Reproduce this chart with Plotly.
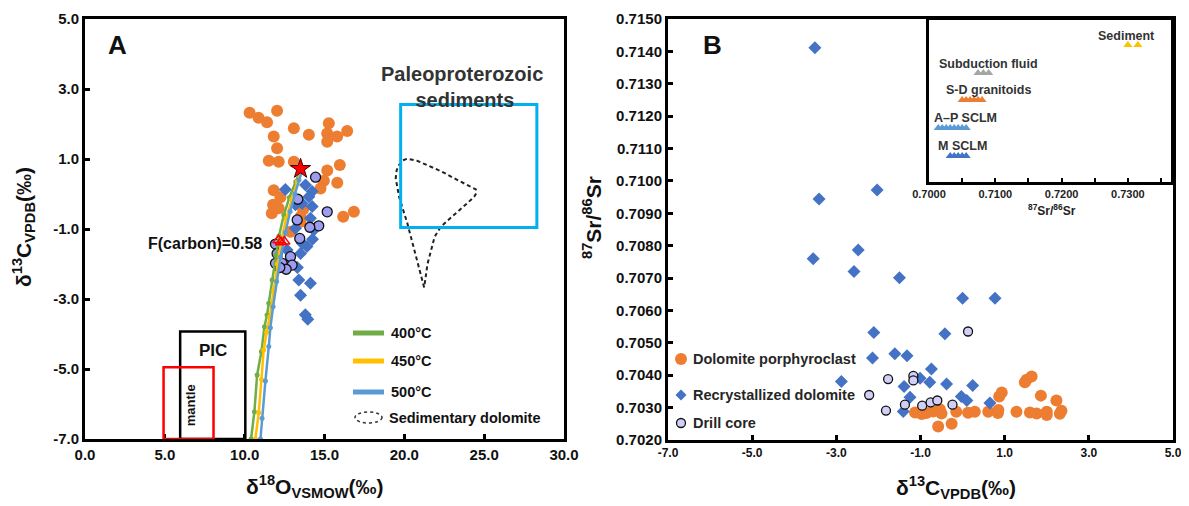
import plotly.graph_objects as go

OFF = 8  # page body margin of the browser
W, H = 1189 - OFF, 506 - OFF
def px(x): return (x - OFF) / W
def py(y): return 1 - (y - OFF) / H

FONT = "Liberation Sans"

# ---------------- Panel A data ----------------
a_porph_x = [10.31, 10.87, 11.40, 12.03, 13.08, 14.02, 15.27, 15.17, 16.42, 15.79, 15.17, 11.82, 12.03, 11.51,
             12.13, 13.08, 15.17, 15.96, 14.96, 15.80, 14.75, 11.82, 12.24, 11.78, 12.13, 13.66, 13.50, 13.50,
             16.17, 16.84, 12.87, 11.70]
a_porph_y = [2.32, 2.18, 2.05, 2.38, 1.88, 1.69, 2.02, 1.73, 1.80, 1.64, 1.49, 1.64, 1.31, 0.95,
             0.92, 0.92, 0.67, 0.83, 0.38, 0.32, 0.16, 0.11, -0.09, -0.31, -0.41, -0.44, -0.65, -0.79,
             -0.65, -0.51, -1.08, -0.55]

a_recr_x = [12.55, 13.81, 14.23, 14.02, 13.60, 14.23, 13.18, 14.12, 14.33, 13.18, 13.60, 13.50, 12.66, 14.25,
            13.39, 14.12, 13.50, 13.80, 13.95, 13.90, 13.30]
a_recr_y = [0.13, 0.26, 0.07, -0.08, -0.27, -0.36, -0.31, -0.69, -1.03, -0.98, -1.41, -1.70, -1.60, -1.29,
            -2.46, -2.55, -2.89, -3.45, -3.58, -1.50, -2.10]

a_drill_x = [14.44, 13.33, 15.17, 14.64, 14.08, 13.45, 11.93, 12.03, 12.87, 12.97, 12.35, 11.93, 13.29, 12.60, 12.20]
a_drill_y = [0.48, -0.15, -0.51, -0.91, -0.95, -1.27, -1.43, -1.70, -1.79, -2.03, -1.98, -1.98, -0.74, -2.15, -2.10]

c400_x = [10.40, 10.61, 10.78, 11.05, 11.24, 11.40, 11.51, 11.72, 11.95, 12.15, 12.45, 12.80, 13.20, 13.55]
c400_y = [-7.00, -6.22, -5.17, -4.50, -3.79, -3.46, -3.12, -2.46, -1.75, -1.20, -0.60, -0.10, 0.35, 0.75]
c450_x = [10.67, 10.88, 11.05, 11.19, 11.38, 11.57, 11.82, 12.05, 12.30, 12.60, 12.95, 13.30, 13.60]
c450_y = [-7.00, -6.25, -5.30, -4.46, -3.95, -3.51, -2.74, -2.00, -1.30, -0.70, -0.15, 0.35, 0.75]
c500_x = [10.99, 11.09, 11.30, 11.51, 11.61, 11.78, 12.00, 12.25, 12.55, 12.85, 13.15, 13.40, 13.65]
c500_y = [-7.00, -6.41, -5.34, -4.36, -3.82, -3.22, -2.50, -1.80, -1.10, -0.50, 0.00, 0.40, 0.75]

star_x, star_y = [13.5], [0.72]
tri_x = [12.12, 12.28, 12.48]
tri_y = [-1.32, -1.38, -1.36]

sed_dol_x = [21.24, 20.61, 20.19, 19.67, 19.46, 19.52, 19.67, 19.90, 20.19, 20.80, 21.44, 22.30, 23.12, 23.90,
             24.48, 24.50, 24.37, 23.90, 23.33, 22.80, 22.29, 21.90, 21.66, 21.45, 21.34, 21.24]
sed_dol_y = [-2.67, -1.60, -0.84, -0.08, 0.45, 0.68, 0.83, 0.96, 1.01, 0.95, 0.83, 0.65, 0.45, 0.28,
             0.13, 0.02, -0.08, -0.28, -0.51, -0.72, -0.93, -1.22, -1.60, -2.00, -2.36, -2.67]

pic_box = [5.96, 10.04, -7.0, -3.93]      # x0, x1, y0, y1
mantle_box = [4.92, 8.05, -7.0, -4.95]
paleo_box = [19.77, 28.30, -0.96, 2.56]

a_xticks = [0, 5, 10, 15, 20, 25, 30]
a_yticks = [-7, -5, -3, -1, 1, 3, 5]

# ---------------- Panel B data ----------------
b_porph_x = [1.52, 1.64, 1.48, 0.87, 0.93, 1.86, 2.23, -0.58, -0.26, -1.13, -0.86, -0.70, -0.50, -0.15, 0.13,
             0.29, 0.61, 0.84, 1.28, 1.60, 1.76, 2.00, 2.31, 2.00, 2.35, -0.54, -0.97, 0.85]
b_porph_y = [0.70386, 0.70396, 0.70378, 0.70334, 0.70347, 0.70337, 0.70322, 0.70242, 0.70250, 0.70285, 0.70283,
             0.70288, 0.70282, 0.70287, 0.70284, 0.70287, 0.70287, 0.70283, 0.70287, 0.70285, 0.70282, 0.70287,
             0.70281, 0.70277, 0.70290, 0.70295, 0.70280, 0.70293]

b_recr_x = [-3.51, -3.41, -2.03, -2.48, -3.55, -2.58, -1.50, -2.11, -2.14, -1.61, -2.88, 0.00, 0.77, -0.42,
            -1.32, -0.74, -1.01, -0.78, -1.39, -0.38, 0.24, -1.25, -0.03, 0.10, -1.41, 0.65]
b_recr_y = [0.71411, 0.70944, 0.70972, 0.70787, 0.70760, 0.70720, 0.70701, 0.70532, 0.70453, 0.70466, 0.70381,
            0.70638, 0.70638, 0.70528, 0.70460, 0.70419, 0.70391, 0.70378, 0.70365, 0.70373, 0.70368, 0.70332,
            0.70334, 0.70322, 0.70288, 0.70314]

b_drill_x = [-1.77, -2.22, -1.82, -1.17, -1.17, -1.37, -0.96, -0.76, -0.60, -0.24, 0.13]
b_drill_y = [0.70388, 0.70339, 0.70291, 0.70398, 0.70384, 0.70309, 0.70306, 0.70316, 0.70322, 0.70309, 0.70535]

b_xticks = [-7, -5, -3, -1, 1, 3, 5]
b_xticktext = ["-7.0", "-5.0", "-3.0", "-1.0", "1.0", "3.0", "5.0"]

# ---------------- Inset data ----------------
inset_groups = ["Sediment", "Subduction fluid", "S-D granitoids", "A–P SCLM", "M SCLM"]
inset_colors = ["#FFC000", "#A5A5A5", "#ED7D31", "#5B9BD5", "#4472C4"]
inset_levels = [0.846, 0.673, 0.506, 0.333, 0.160]
inset_x = [
    [0.7300, 0.7315],
    [0.7074, 0.7082, 0.7090],
    [0.7050, 0.7056, 0.7062, 0.7068, 0.7074, 0.7080],
    [0.7014, 0.7020, 0.7026, 0.7032, 0.7038, 0.7044, 0.7050, 0.7056],
    [0.7032, 0.7038, 0.7044, 0.7050, 0.7056],
]
inset_label_x = [0.7298, 0.7090, 0.7090, 0.7055, 0.7050]
inset_ticks = [0.700, 0.705, 0.710, 0.715, 0.720, 0.725, 0.730, 0.735]
inset_ticktext = ["0.7000", "", "0.7100", "", "0.7200", "", "0.7300", ""]

ORANGE = "#ED7D31"
BLUE = "#4472C4"

fig = go.Figure()

# Panel A traces
fig.add_trace(go.Scatter(x=a_porph_x, y=a_porph_y, mode="markers", xaxis="x", yaxis="y",
                         marker=dict(symbol="circle", size=12, color=ORANGE), showlegend=False))
fig.add_trace(go.Scatter(x=a_recr_x, y=a_recr_y, mode="markers", xaxis="x", yaxis="y",
                         marker=dict(symbol="diamond", size=10, color=BLUE), showlegend=False))
fig.add_trace(go.Scatter(x=a_drill_x, y=a_drill_y, mode="markers", xaxis="x", yaxis="y",
                         marker=dict(symbol="circle", size=10, color="#9C9CF0", line=dict(color="#111", width=1.3)),
                         showlegend=False))
for cx, cy, col in [(c400_x, c400_y, "#70AD47"), (c450_x, c450_y, "#FFC000"), (c500_x, c500_y, "#5B9BD5")]:
    fig.add_trace(go.Scatter(x=cx, y=cy, mode="lines+markers", xaxis="x", yaxis="y",
                             line=dict(color=col, width=2.5), marker=dict(size=5, color=col), showlegend=False))
fig.add_trace(go.Scatter(x=sed_dol_x, y=sed_dol_y, mode="lines", xaxis="x", yaxis="y",
                         line=dict(color="#222", width=2, dash="4px,3px"),
                         showlegend=False))
fig.add_trace(go.Scatter(x=star_x, y=star_y, mode="markers", xaxis="x", yaxis="y",
                         marker=dict(symbol="star", size=15, color="#FF0000", line=dict(color="#400", width=1)),
                         showlegend=False))
fig.add_trace(go.Scatter(x=tri_x, y=tri_y, mode="markers", xaxis="x", yaxis="y",
                         marker=dict(symbol="triangle-up-open", size=10, color="#FF0000", line=dict(width=1.5)),
                         showlegend=False))

# Panel B traces
fig.add_trace(go.Scatter(x=b_porph_x, y=b_porph_y, mode="markers", xaxis="x2", yaxis="y2",
                         marker=dict(symbol="circle", size=12, color=ORANGE), showlegend=False))
fig.add_trace(go.Scatter(x=b_recr_x, y=b_recr_y, mode="markers", xaxis="x2", yaxis="y2",
                         marker=dict(symbol="diamond", size=10, color=BLUE), showlegend=False))
fig.add_trace(go.Scatter(x=b_drill_x, y=b_drill_y, mode="markers", xaxis="x2", yaxis="y2",
                         marker=dict(symbol="circle", size=9, color="#CFCFF7", line=dict(color="#111", width=1.3)),
                         showlegend=False))

# Inset traces
for xs, lvl, col in zip(inset_x, inset_levels, inset_colors):
    fig.add_trace(go.Scatter(x=xs, y=[lvl] * len(xs), mode="markers", xaxis="x3", yaxis="y3",
                             marker=dict(symbol="triangle-up", size=8, color=col), showlegend=False))

tickfont = dict(family=FONT, size=15, color="#111", weight="bold")
common = dict(showgrid=False, zeroline=False, showline=True, linecolor="black", linewidth=3, mirror=True,
              ticks="inside", ticklen=5, tickwidth=3, tickcolor="black")

fig.update_layout(
    width=W, height=H, margin=dict(l=0, r=0, t=0, b=0, autoexpand=False),
    paper_bgcolor="white", plot_bgcolor="white", showlegend=False,
    xaxis=dict(domain=[px(85), px(564)], range=[0, 30], tickvals=a_xticks,
               ticktext=[f"{v:.1f}" for v in a_xticks], tickfont=tickfont, anchor="y", **common),
    yaxis=dict(domain=[py(439), py(19)], range=[-7, 5], tickvals=a_yticks,
               ticktext=[f"{v:.1f}" for v in a_yticks], tickfont=tickfont, anchor="x", **common),
    xaxis2=dict(domain=[px(668), px(1173)], range=[-7, 5], tickvals=b_xticks, ticktext=b_xticktext,
                tickfont=dict(family=FONT, size=12, color="#111", weight="bold"), anchor="y2", **common),
    yaxis2=dict(domain=[py(440), py(19)], range=[0.7020, 0.7150], dtick=0.001, tick0=0.702, tickformat=".4f",
                tickfont=tickfont, anchor="x2", **common),
    xaxis3=dict(domain=[px(929), px(1171)], range=[0.7000, 0.7365], tickvals=inset_ticks, ticktext=inset_ticktext,
                tickfont=dict(family=FONT, size=11, color="#222", weight="bold"), anchor="y3",
                showgrid=False, zeroline=False, showline=True, linecolor="black", linewidth=2.5, mirror=True,
                ticks="inside", ticklen=4, tickwidth=2, tickcolor="black"),
    yaxis3=dict(domain=[py(182), py(20)], range=[0, 1], showticklabels=False, anchor="x3",
                showgrid=False, zeroline=False, showline=True, linecolor="black", linewidth=2.5, mirror=True,
                ticks=""),
)

shapes = []
# boxes in panel A
for box, col, wid in [(pic_box, "black", 2.5), (mantle_box, "#FF0000", 2.5), (paleo_box, "#00B0F0", 3)]:
    shapes.append(dict(type="rect", xref="x", yref="y", x0=box[0], x1=box[1], y0=box[2], y1=box[3],
                       line=dict(color=col, width=wid), fillcolor="rgba(0,0,0,0)"))
# inset white background
shapes.append(dict(type="rect", xref="x3 domain", yref="y3 domain", x0=0, x1=1, y0=0, y1=1,
                   fillcolor="white", line=dict(width=0), layer="below"))

# Legend A glyphs
for yy, col in [(333, "#70AD47"), (361, "#FFC000"), (392, "#5B9BD5")]:
    shapes.append(dict(type="line", xref="paper", yref="paper", x0=px(353), x1=px(384), y0=py(yy), y1=py(yy),
                       line=dict(color=col, width=5)))
shapes.append(dict(type="circle", xref="paper", yref="paper", x0=px(355), x1=px(382), y0=py(412), y1=py(423),
                   line=dict(color="#333", width=1.5, dash="dot")))
# Legend B glyphs
shapes.append(dict(type="circle", xref="paper", yref="paper", x0=px(675), x1=px(687), y0=py(353), y1=py(365),
                   fillcolor=ORANGE, line=dict(width=0)))
cx, cy = 681, 395
shapes.append(dict(type="path", xref="paper", yref="paper",
                   path=f"M {px(cx)} {py(cy-5.5)} L {px(cx+5.5)} {py(cy)} L {px(cx)} {py(cy+5.5)} L {px(cx-5.5)} {py(cy)} Z",
                   fillcolor=BLUE, line=dict(width=0)))
shapes.append(dict(type="circle", xref="paper", yref="paper", x0=px(676.5), x1=px(685.5), y0=py(418.5), y1=py(427.5),
                   fillcolor="#CFCFF7", line=dict(color="#111", width=1.3)))
fig.update_layout(shapes=shapes)

ann = []
def T(text, x, y, size, xref="paper", yref="paper", xanchor="center", yanchor="middle", color="#111",
      angle=0, bold=True, family=FONT):
    ann.append(dict(text=text, x=x, y=y, xref=xref, yref=yref, xanchor=xanchor, yanchor=yanchor,
                    showarrow=False, textangle=angle,
                    font=dict(family=family, size=size, color=color, weight="bold" if bold else "normal")))

T("A", px(117), py(45), 26)
T("B", px(712), py(45), 26)
T("F(carbon)=0.58", px(264), py(243), 16, xanchor="right")
T("PIC", 8.04, -4.46, 17, xref="x", yref="y")
T("mantle", 6.59, -6.03, 13, xref="x", yref="y", angle=-90)
T("Paleoproterozoic<br> sediments", 23.6, 3.05, 20, xref="x", yref="y", color="#333")

# legend A text
T("400°C", px(389), py(333), 14.5, xanchor="left")
T("450°C", px(389), py(361), 14.5, xanchor="left")
T("500°C", px(389), py(392), 14.5, xanchor="left")
T("Sedimentary dolomite", px(387), py(418), 14.5, xanchor="left")

# legend B text
T("Dolomite porphyroclast", px(691), py(359), 14.5, xanchor="left", color="#262626")
T("Recrystallized dolomite", px(691), py(395), 14.5, xanchor="left", color="#262626")
T("Drill core", px(691), py(423), 14.5, xanchor="left", color="#262626")

# inset labels
inset_label_y = [36, 64, 90, 118, 146]
for name, lx, ly in zip(inset_groups, inset_label_x, inset_label_y):
    T(name, lx, py(ly), 12.5, xref="x3", color="#333")
T("<sup>87</sup>Sr/<sup>86</sup>Sr", px(1052), py(210), 12, color="#222")

# axis titles
T("δ<sup>18</sup>O<sub>VSMOW</sub>(‰)", px(315), py(486), 21)
T("δ<sup>13</sup>C<sub>VPDB</sub>(‰)", px(24), py(227), 21, angle=-90)
T("δ<sup>13</sup>C<sub>VPDB</sub>(‰)", px(956), py(487), 21)
T("<sup>87</sup>Sr/<sup>86</sup>Sr", px(592), py(218), 21, angle=-90)

fig.update_layout(annotations=ann)
fig.write_html("out.html")
